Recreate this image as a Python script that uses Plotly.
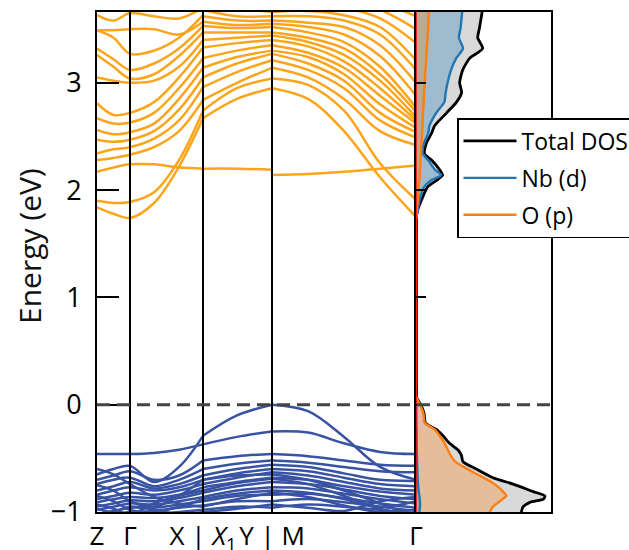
import plotly.graph_objects as go

# ---------------- data ----------------
# k-path positions of the three path segments: Z-Γ-X | X1-Y | M-Γ
K_SEG1 = [0, 16.5, 33, 57, 82, 106]
K_SEG2 = [106, 140, 175]
K_SEG3 = [175, 211, 247, 283, 319]
K_TICKS = [0, 33, 106, 175, 319]
K_LABELS = ["Z", "Γ", "X | <i>X</i><sub>1</sub>", "Y | M", "Γ"]

# conduction bands (eV): [Z, ., Γ, ., ., X, X1, ., Y, M, ., ., ., Γ]
COND_BANDS = [
    [1.84, 1.78, 1.74, 1.88, 2.22, 2.67, 2.67, 2.85, 2.95, 2.95, 2.85, 2.55, 2.12, 1.75],
    [1.90, 1.88, 1.89, 1.98, 2.28, 2.74, 2.74, 2.95, 3.04, 3.04, 2.98, 2.74, 2.25, 1.91],
    [2.17, 2.21, 2.24, 2.24, 2.21, 2.20, 2.20, 2.20, 2.19, 2.14, 2.15, 2.17, 2.20, 2.23],
    [2.28, 2.30, 2.33, 2.40, 2.55, 2.84, 2.84, 3.00, 3.14, 3.14, 3.05, 2.85, 2.55, 2.42],
    [2.34, 2.38, 2.40, 2.48, 2.65, 2.96, 2.96, 3.10, 3.21, 3.21, 3.12, 2.95, 2.65, 2.49],
    [2.47, 2.45, 2.47, 2.55, 2.75, 3.05, 3.05, 3.18, 3.27, 3.27, 3.18, 3.02, 2.72, 2.54],
    [2.56, 2.52, 2.54, 2.62, 2.85, 3.14, 3.14, 3.24, 3.30, 3.30, 3.24, 3.08, 2.80, 2.58],
    [2.67, 2.62, 2.63, 2.72, 2.95, 3.23, 3.23, 3.30, 3.35, 3.35, 3.28, 3.14, 2.88, 2.62],
    [2.81, 2.70, 2.72, 2.82, 3.05, 3.33, 3.33, 3.37, 3.40, 3.40, 3.34, 3.20, 2.95, 2.65],
    [3.05, 3.02, 3.00, 3.02, 3.15, 3.40, 3.40, 3.42, 3.44, 3.44, 3.38, 3.26, 3.02, 2.68],
    [3.26, 3.15, 3.04, 3.08, 3.25, 3.47, 3.47, 3.47, 3.47, 3.47, 3.42, 3.32, 3.08, 2.73],
    [3.32, 3.22, 3.12, 3.18, 3.32, 3.53, 3.53, 3.51, 3.52, 3.52, 3.47, 3.38, 3.15, 2.77],
    [3.49, 3.49, 3.50, 3.50, 3.45, 3.57, 3.57, 3.54, 3.55, 3.55, 3.52, 3.45, 3.25, 2.88],
    [3.49, 3.42, 3.27, 3.30, 3.42, 3.63, 3.62, 3.58, 3.58, 3.58, 3.56, 3.52, 3.35, 3.00],
    [3.63, 3.58, 3.65, 3.62, 3.60, 3.70, 3.68, 3.62, 3.62, 3.62, 3.62, 3.58, 3.45, 3.12],
    [3.80, 3.75, 3.72, 3.72, 3.75, 3.80, 3.78, 3.70, 3.66, 3.66, 3.67, 3.63, 3.52, 3.21],
    [3.90, 3.85, 3.82, 3.82, 3.84, 3.86, 3.84, 3.78, 3.72, 3.72, 3.74, 3.70, 3.60, 3.37],
    [4.00, 3.95, 3.92, 3.90, 3.90, 3.92, 3.90, 3.85, 3.80, 3.80, 3.80, 3.76, 3.68, 3.50],
    [4.10, 4.05, 4.00, 3.98, 3.98, 3.98, 3.96, 3.92, 3.88, 3.88, 3.86, 3.82, 3.75, 3.62],
]

# valence bands (eV)
VAL_BANDS = [
    [-0.65, -0.60, -0.57, -0.72, -0.58, -0.29, -0.29, -0.10, 0.00, 0.00, -0.06, -0.30, -0.58, -0.70],
    [-0.46, -0.46, -0.46, -0.45, -0.42, -0.37, -0.37, -0.30, -0.25, -0.25, -0.26, -0.36, -0.44, -0.46],
    [-0.70, -0.66, -0.62, -0.70, -0.66, -0.52, -0.52, -0.48, -0.46, -0.46, -0.48, -0.52, -0.56, -0.57],
    [-0.74, -0.70, -0.68, -0.76, -0.70, -0.60, -0.60, -0.55, -0.52, -0.52, -0.54, -0.58, -0.62, -0.63],
    [-0.80, -0.76, -0.72, -0.78, -0.74, -0.66, -0.66, -0.60, -0.56, -0.56, -0.58, -0.64, -0.70, -0.71],
    [-0.84, -0.80, -0.77, -0.80, -0.77, -0.70, -0.70, -0.64, -0.60, -0.60, -0.62, -0.68, -0.74, -0.76],
    [-0.88, -0.85, -0.82, -0.84, -0.80, -0.74, -0.74, -0.68, -0.63, -0.63, -0.66, -0.72, -0.78, -0.80],
    [-0.91, -0.88, -0.86, -0.87, -0.84, -0.77, -0.77, -0.72, -0.68, -0.68, -0.70, -0.76, -0.81, -0.84],
    [-0.95, -0.92, -0.89, -0.90, -0.87, -0.82, -0.82, -0.76, -0.72, -0.72, -0.74, -0.79, -0.85, -0.88],
    [-0.98, -0.95, -0.92, -0.93, -0.90, -0.86, -0.86, -0.80, -0.77, -0.77, -0.78, -0.83, -0.88, -0.92],
    [-1.02, -0.99, -0.96, -0.96, -0.93, -0.90, -0.90, -0.85, -0.84, -0.84, -0.83, -0.87, -0.92, -0.96],
    [-1.05, -1.02, -1.00, -0.99, -0.96, -0.94, -0.94, -0.90, -0.90, -0.90, -0.88, -0.91, -0.95, -0.99],
    [-1.10, -1.06, -1.04, -1.02, -1.00, -0.98, -0.98, -0.95, -0.96, -0.96, -0.93, -0.95, -0.98, -1.02],
    [-0.75, -0.80, -0.90, -0.95, -0.85, -0.70, -0.70, -0.66, -0.65, -0.65, -0.70, -0.80, -0.92, -1.05],
    [-0.60, -0.65, -0.74, -0.86, -0.92, -0.95, -0.95, -0.88, -0.82, -0.82, -0.86, -0.94, -1.00, -0.98],
    [-0.85, -0.90, -0.98, -1.00, -0.95, -0.88, -0.88, -0.83, -0.80, -0.80, -0.82, -0.88, -0.97, -1.05],
    [-0.93, -0.97, -1.02, -0.92, -0.85, -0.80, -0.80, -0.73, -0.69, -0.69, -0.74, -0.85, -0.95, -0.90],
    [-0.97, -1.00, -0.95, -0.98, -1.02, -1.00, -1.00, -0.97, -0.93, -0.93, -0.96, -0.99, -0.90, -0.86],
]

# density of states (arb. units) vs energy (eV)
DOS_ENERGY = [-1.00, -0.95, -0.91, -0.88, -0.85, -0.81, -0.74, -0.68, -0.60, -0.53, -0.47,
              -0.42, -0.36, -0.29, -0.23, -0.17, -0.08, 0.00, 0.08, 0.20, 1.60, 1.72,
              1.81, 1.93, 2.03, 2.09, 2.14, 2.19, 2.28, 2.34, 2.44, 2.53, 2.60, 2.72,
              2.82, 2.91, 3.00, 3.12, 3.23, 3.32, 3.42, 3.51, 3.66]
DOS_TOTAL = [7.80, 7.94, 8.44, 9.43, 9.55, 8.68, 7.20, 5.70, 4.47, 3.48, 3.36,
             3.10, 2.49, 2.00, 1.50, 0.70, 0.60, 0.35, 0.00, 0.00, 0.00, 0.00,
             0.11, 0.48, 0.86, 1.52, 1.97, 1.75, 1.15, 0.63, 0.78, 1.15, 1.38, 2.27,
             3.00, 3.38, 3.23, 3.46, 3.98, 4.94, 4.57, 4.70, 4.90]
DOS_NB_D = [0.25, 0.30, 0.30, 0.28, 0.25, 0.20, 0.15, 0.12, 0.10, 0.08, 0.07,
            0.06, 0.05, 0.05, 0.04, 0.03, 0.03, 0.02, 0.00, 0.00, 0.00, 0.00,
            0.13, 0.30, 0.60, 1.10, 1.85, 1.40, 0.90, 0.50, 0.60, 0.90, 1.00, 1.50,
            2.10, 2.20, 2.34, 2.60, 2.98, 3.48, 3.18, 3.30, 3.42]
DOS_O_P = [5.46, 5.70, 6.10, 6.40, 6.70, 6.45, 5.80, 5.00, 3.80, 2.90, 2.55,
           2.35, 2.12, 1.75, 1.38, 0.65, 0.55, 0.30, 0.00, 0.00, 0.00, 0.00,
           0.05, 0.15, 0.20, 0.25, 0.28, 0.30, 0.33, 0.36, 0.40, 0.45, 0.48, 0.52,
           0.57, 0.60, 0.64, 0.70, 0.76, 0.80, 0.86, 0.90, 0.95]
DOS_OTHER = [0.0] * len(DOS_ENERGY)

Y_TICKS = [-1, 0, 1, 2, 3]
Y_TICKTEXT = ["\u22121", "0", "1", "2", "3"]
Y_RANGE = [-1, 3.66]
DOS_RANGE = [0, 10]

# ---------------- figure ----------------
fig = go.Figure()

def band_xy(vals):
    n1, n2 = len(K_SEG1), len(K_SEG2)
    xs = K_SEG1 + [None] + K_SEG2 + [None] + K_SEG3
    ys = vals[:n1] + [None] + vals[n1:n1 + n2] + [None] + vals[n1 + n2:]
    return xs, ys

for vals in VAL_BANDS:
    xs, ys = band_xy(vals)
    fig.add_trace(go.Scatter(x=xs, y=ys, mode="lines", line=dict(color="#3953a4", width=2.5, shape="spline"),
                             showlegend=False, hoverinfo="skip", xaxis="x", yaxis="y"))
for vals in COND_BANDS:
    xs, ys = band_xy(vals)
    fig.add_trace(go.Scatter(x=xs, y=ys, mode="lines", line=dict(color="#fba51c", width=2.5, shape="spline"),
                             showlegend=False, hoverinfo="skip", xaxis="x", yaxis="y"))

# DOS panel: fills (no legend) then lines (legend)
dos_series = [
    ("Total DOS", DOS_TOTAL, "black", 2.8, "#d9d9d9"),
    ("Nb (d)", DOS_NB_D, "#1f77b4", 2.4, "rgba(31,119,180,0.3)"),
    ("O (p)", DOS_O_P, "#ff7f0e", 2.4, "rgba(255,127,14,0.3)"),
]
for name, vals, col, lw, fcol in dos_series:
    fig.add_trace(go.Scatter(x=vals, y=DOS_ENERGY, mode="none", fill="tozerox", fillcolor=fcol,
                             line=dict(shape="spline", smoothing=0.6),
                             showlegend=False, hoverinfo="skip", xaxis="x2", yaxis="y2"))
for i, (name, vals, col, lw, fcol) in enumerate(dos_series):
    fig.add_trace(go.Scatter(x=vals, y=DOS_ENERGY, mode="lines", name=name,
                             line=dict(color=col, width=lw, shape="spline", smoothing=0.6),
                             xaxis="x2", yaxis="y2", legendgroup=f"g{i}"))
fig.add_trace(go.Scatter(x=DOS_OTHER, y=DOS_ENERGY, mode="lines", line=dict(color="red", width=1.5),
                         showlegend=False, hoverinfo="skip", xaxis="x2", yaxis="y2"))

band_frac = K_TICKS[-1] / (K_TICKS[-1] + 135)

shapes = []
for k in K_TICKS[1:-1]:
    shapes.append(dict(type="line", xref="x", yref="paper", x0=k, x1=k, y0=0, y1=1,
                       line=dict(color="black", width=2)))
shapes.append(dict(type="line", xref="paper", yref="y", x0=0, x1=1, y0=0, y1=0,
                   line=dict(color="#444444", width=3, dash="13px,7px")))

font_family = "Open Sans, DejaVu Sans, sans-serif"
fig.update_layout(
    width=629, height=550,
    margin=dict(l=97, r=78, t=12, b=38, autoexpand=False),
    paper_bgcolor="white", plot_bgcolor="white",
    font=dict(family=font_family, color="black"),
    shapes=shapes,
    annotations=[dict(text="Energy (eV)", xref="paper", yref="paper", x=-68 / 454, y=(512 - 246) / 500,
                      xanchor="center", yanchor="middle", textangle=-90, showarrow=False,
                      font=dict(size=30, color="#111111"))],
    xaxis=dict(domain=[0, band_frac], range=[K_TICKS[0], K_TICKS[-1]], tickvals=K_TICKS, ticktext=K_LABELS,
               ticks="", showgrid=False, zeroline=False, showline=True, linecolor="black", linewidth=2,
               mirror=True, tickfont=dict(size=26), tickangle=0, ticklabelstandoff=0, automargin=False),
    yaxis=dict(range=Y_RANGE, tickvals=Y_TICKS, ticktext=Y_TICKTEXT,
               ticks="inside", ticklen=22, tickwidth=2, tickcolor="black",
               showgrid=False, zeroline=False, showline=True, linecolor="black", linewidth=2, mirror=True,
               tickfont=dict(size=27), ticklabelstandoff=8, automargin=False),
    xaxis2=dict(domain=[band_frac, 1], range=DOS_RANGE, showticklabels=False, ticks="", showgrid=False,
                zeroline=False, showline=True, linecolor="black", linewidth=2, mirror=True, anchor="y2",
                automargin=False),
    yaxis2=dict(range=Y_RANGE, tickvals=Y_TICKS, showticklabels=False, ticks="inside", ticklen=10,
                tickwidth=2, tickcolor="black", showgrid=False, zeroline=False, showline=True,
                linecolor="black", linewidth=2, mirror=True, anchor="x2", matches="y", automargin=False),
    legend=dict(x=(457 - 97) / 454, y=(512 - 118) / 500, xanchor="left", yanchor="top",
                bgcolor="white", bordercolor="black", borderwidth=1.5,
                font=dict(size=23, family=font_family), tracegroupgap=4, itemwidth=53),
    showlegend=True,
)

fig.write_html("out.html")
